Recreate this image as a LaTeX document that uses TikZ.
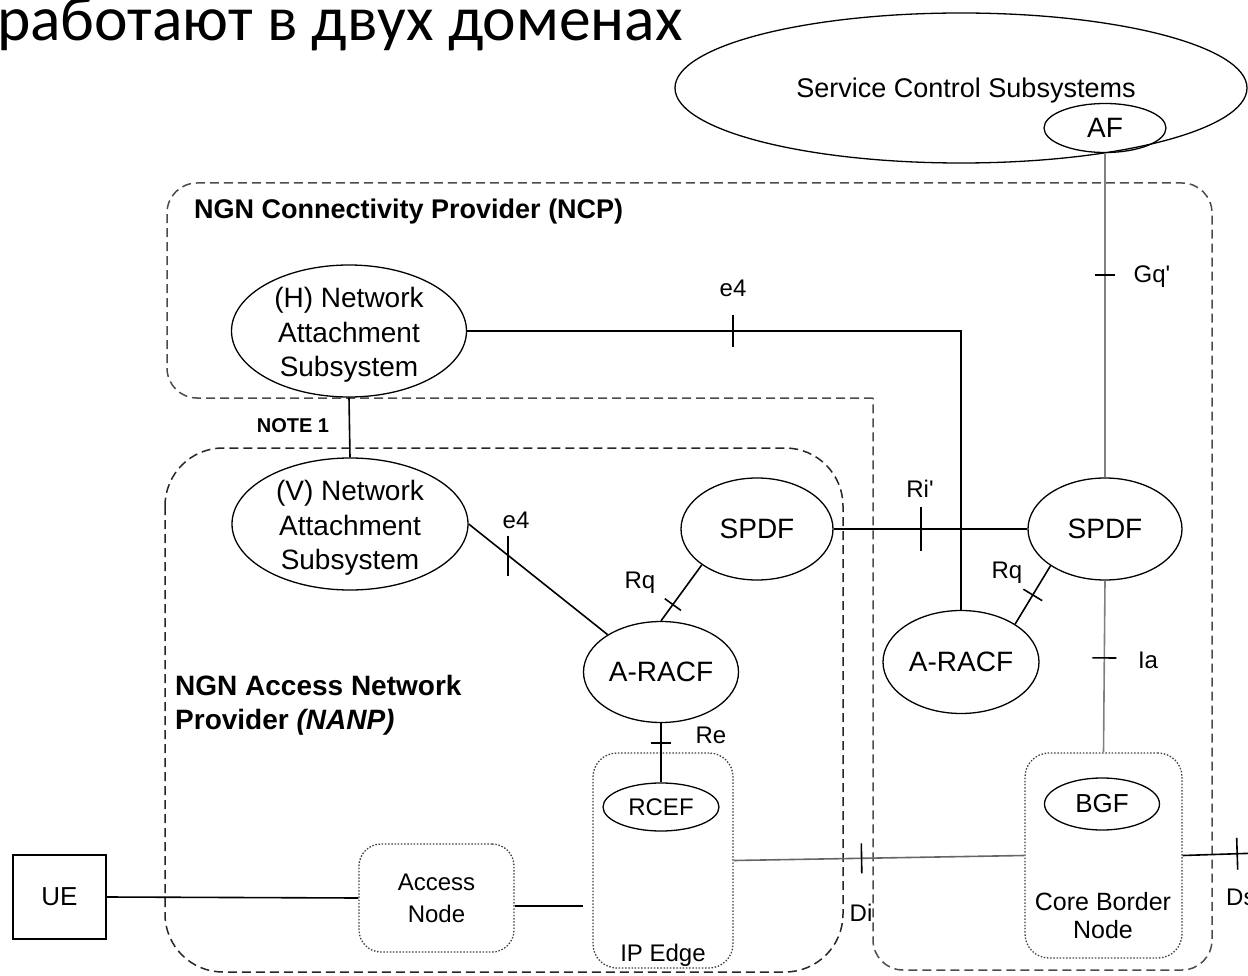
\documentclass[tikz,border=0pt]{standalone}
\usepackage{fontspec}
\setmainfont{Liberation Sans}
\newfontfamily\rufont{Carlito}
\usetikzlibrary{shapes.geometric,decorations.markings}
\begin{document}
\begin{tikzpicture}[x=1pt,y=-1pt,
  unit/.style={ellipse,draw,line width=1.3pt,inner sep=0pt,font=\fontsize{28}{34.5}\selectfont},
  nastxt/.style={font=\fontsize{28}{34.5}\selectfont,inner sep=0pt,align=center,yshift=-4pt},
  dotbox/.style={draw=black!75,line width=1.3pt,dash pattern=on 1.5pt off 1.7pt,rounded corners=24pt},
  link/.style={line width=1.6pt},
  lbl/.style={font=\fontsize{24}{30}\selectfont,inner sep=0pt,align=center},
  tickat/.style 2 args={postaction={decorate,decoration={markings,
      mark=at position #1 with {\draw[black,line width=1.6pt] (0,-#2) -- (0,#2);}}}}]
\useasboundingbox (0,0) rectangle (1248,976);

\node[anchor=base west,inner sep=0pt,font=\rufont\fontsize{63.5}{70}\selectfont] (title) at (-3,41) {работают в двух доменах};

\draw[black!70,line width=1.5pt,dash pattern=on 9pt off 5pt,rounded corners=30pt]
  (873,398) -- (167,398) -- (167,183) -- (1212,183) -- (1212,970) -- (873,970) -- (873,398);
\draw[black!85,line width=1.5pt,dash pattern=on 9pt off 5pt,rounded corners=58pt]
  (165,448) rectangle (843,972);

\node[ellipse,draw,line width=1.3pt,minimum width=572,minimum height=150] (scs) at (961,88) {};
\node[lbl,font=\fontsize{27}{30}\selectfont] (scstxt) at (966,91) {Service Control Subsystems};
\node[unit,minimum width=122,minimum height=49] (af) at (1105,128) {AF};
\node[unit,minimum width=235,minimum height=132,label={[nastxt]center:(H) Network\\Attachment\\Subsystem}] (hnas) at (349,331) {};
\node[unit,minimum width=236,minimum height=132,label={[nastxt]center:(V) Network\\Attachment\\Subsystem}] (vnas) at (350,524) {};
\node[unit,minimum width=152,minimum height=102] (spdfl) at (757,529) {SPDF};
\node[unit,minimum width=155,minimum height=101] (aracfl) at (661,672) {A-RACF};
\node[unit,minimum width=154,minimum height=102] (spdfr) at (1105,529) {SPDF};
\node[unit,minimum width=156,minimum height=103] (aracfr) at (961,662) {A-RACF};

\node[dotbox,minimum width=140,minimum height=215] (ipedge) at (663,860.5) {};
\node[dotbox,minimum width=157,minimum height=205] (cbn) at (1103.5,855.5) {};
\node[dotbox,lbl,font=\fontsize{24}{32}\selectfont,minimum width=155,minimum height=108,rounded corners=22pt,text depth=0pt] (access) at (436.5,898) {Access\\Node};
\node[unit,minimum width=116,minimum height=48,font=\fontsize{24}{28}\selectfont] (rcef) at (661,807) {RCEF};
\node[unit,minimum width=115,minimum height=52,font=\fontsize{26}{30}\selectfont] (bgf) at (1102,804) {BGF};
\node[draw,line width=1.6pt,minimum width=93,minimum height=84,font=\fontsize{26}{30}\selectfont] (ue) at (59.5,897) {UE};

\node[lbl,font=\bfseries\fontsize{27}{30}\selectfont,anchor=west] (ncp) at (194,212) {NGN Connectivity Provider (NCP)};
\node[lbl,font=\bfseries\fontsize{28}{34}\selectfont,anchor=west,align=left] (nanp) at (175,705) {NGN Access Network\\Provider \textit{(NANP)}};
\node[lbl,font=\bfseries\fontsize{20}{24}\selectfont] (note) at (293,426) {NOTE 1};
\node[lbl] (iptxt) at (663,955) {IP Edge};
\node[lbl,font=\fontsize{25}{28}\selectfont] (cbntxt) at (1103,916) {Core Border\\Node};
\foreach \n/\t/\x/\y in {le4a/e4/733/288, lgq/{Gq\textquotesingle}/1152/277, lri/{Ri\textquotesingle}/920/489,
    lrqr/Rq/1007/573, lia/Ia/1148/660, le4b/e4/516/520, lrql/Rq/640/583, lre/Re/711/735, ldi/Di/861/913}
  \node[lbl] (\n) at (\x,\y) {\t};
\node[lbl,anchor=west] (lds) at (1226,897) {Ds};

\draw[link,tickat={0.344}{16}] (hnas.east) -| (aracfr.north);
\draw[link] (hnas.south) -- (vnas.north);
\draw[link] (vnas.east) -- coordinate[pos=0.285] (e4b) (aracfl.145);
\draw[link] ([yshift=20pt]e4b) -- ([yshift=-20pt]e4b);
\draw[link,tickat={0.71}{10}] (spdfl.213) -- (aracfl.north);
\draw[link,tickat={0.45}{22}] (spdfl.east) -- (spdfr.west);
\draw[link,draw=gray,tickat={0.376}{10}] (af.south) -- (spdfr.north);
\draw[link,tickat={0.5}{11}] (spdfr.214) -- (aracfr.35);
\draw[link,draw=gray,tickat={0.45}{12}] (spdfr.south) -- (cbn.north);
\draw[link,tickat={0.34}{10}] (aracfl.south) -- (rcef.north);
\draw[link] (ue.east) -- (access.west);
\draw[link,shorten >=9pt] ([yshift=-8pt]access.east) -- ([yshift=-8pt]access.east -| ipedge.west);
\draw[link,draw=black!60,tickat={0.44}{15}] (ipedge.east) -- (cbn.west);
\coordinate (dsend) at (1260,853);
\draw[link,tickat={0.705}{16}] (cbn.east) -- (dsend);
\end{tikzpicture}
\end{document}
